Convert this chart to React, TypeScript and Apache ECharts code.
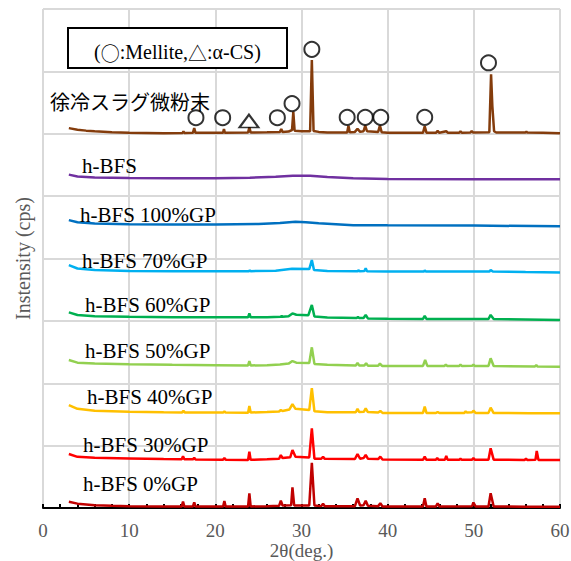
import React, { useEffect, useRef } from "react";
import * as echarts from "echarts";

// 2θ (deg.) vs intensity (cps, stacked with offsets as drawn)
const slagData: number[][] = [
  [3.0, 6090], [4, 6065], [5, 6050], [6, 6040], [8, 6025], [10, 6015], [14, 6010], [16.2, 6012], [16.3, 6040], [16.4, 6012],
  [17.4, 6015], [17.55, 6090], [17.7, 6015], [20.9, 6018], [21.0, 6075], [21.1, 6018], [23.8, 6020], [23.95, 6105], [24.1, 6020],
  [26, 6025], [27.5, 6030], [27.65, 6075], [27.8, 6030], [28.5, 6035], [28.9, 6060], [29.05, 6350], [29.2, 6050], [30, 6040],
  [31.0, 6040], [31.2, 7180], [31.4, 6045], [32, 6030], [33, 6022], [35.3, 6020], [35.45, 6130], [35.6, 6025], [36.2, 6030],
  [36.5, 6080], [36.8, 6030], [37.2, 6040], [37.4, 6130], [37.6, 6040], [38.9, 6030], [39.1, 6130], [39.3, 6025], [40, 6015],
  [44.1, 6015], [44.3, 6120], [44.5, 6018], [45.6, 6015], [45.8, 6045], [46, 6015], [46.8, 6040], [47, 6015], [48.3, 6015],
  [48.45, 6040], [48.6, 6015], [49.6, 6020], [49.75, 6045], [49.9, 6020], [51.8, 6025], [52.0, 6955], [52.15, 6440], [52.35, 6040],
  [52.6, 6020], [56.0, 6020], [56.1, 6035], [56.2, 6020], [58, 6015], [60, 6010],
];
const hbfsData: number[][] = [
  [3, 5345], [4, 5315], [6, 5300], [10, 5290], [15, 5285], [20, 5285], [24, 5295], [27, 5310], [29, 5325], [31, 5325],
  [33, 5305], [36, 5285], [40, 5275], [50, 5272], [60, 5270],
];
const gp100Data: number[][] = [
  [3, 4615], [4, 4580], [6, 4560], [10, 4548], [15, 4545], [20, 4545], [25, 4555], [27.5, 4570], [29.3, 4590], [30.5, 4580],
  [32, 4565], [34, 4550], [36, 4535], [40, 4532], [50, 4528], [60, 4516],
];
const gp70Data: number[][] = [
  [3, 3895], [4, 3840], [6, 3815], [10, 3800], [15, 3795], [20, 3795], [23.9, 3797], [24.0, 3812], [24.1, 3797], [27, 3805],
  [28.9, 3835], [30.9, 3830], [31.2, 3975], [31.45, 3815], [33, 3800], [36.5, 3795], [36.6, 3810], [36.75, 3795], [37.3, 3800],
  [37.45, 3845], [37.6, 3795], [40, 3790], [44.2, 3790], [44.3, 3810], [44.45, 3790], [51.8, 3790], [51.95, 3815], [52.2, 3790],
  [56, 3782], [60, 3775],
];
const gp60Data: number[][] = [
  [3, 3137], [4, 3095], [6, 3075], [10, 3065], [15, 3060], [20, 3058], [23.8, 3057], [23.95, 3122], [24.1, 3057], [26, 3060],
  [27.6, 3065], [27.7, 3080], [27.8, 3065], [28.5, 3075], [28.95, 3120], [29.4, 3098], [30.8, 3092], [31.2, 3255], [31.5, 3070],
  [33, 3055], [36.4, 3045], [36.55, 3065], [36.7, 3045], [37.2, 3045], [37.45, 3095], [37.7, 3040], [40, 3035], [44.1, 3032],
  [44.3, 3080], [44.5, 3032], [51.7, 3030], [51.95, 3095], [52.3, 3030], [56, 3022], [60, 3014],
];
const gp50Data: number[][] = [
  [3, 2372], [4, 2330], [6, 2315], [10, 2305], [15, 2295], [20, 2290], [23.8, 2285], [23.95, 2356], [24.1, 2285], [26, 2290],
  [27.5, 2300], [28.5, 2315], [28.95, 2356], [29.4, 2330], [30.9, 2325], [31.2, 2576], [31.5, 2310], [33, 2295], [36.3, 2285],
  [36.5, 2325], [36.7, 2285], [37.3, 2285], [37.5, 2322], [37.7, 2282], [38.9, 2280], [39.1, 2315], [39.35, 2278], [44.1, 2278],
  [44.35, 2372], [44.6, 2278], [46.6, 2278], [46.75, 2300], [46.9, 2278], [48.3, 2276], [48.45, 2300], [48.6, 2276], [49.8, 2280],
  [49.95, 2300], [50.1, 2278], [51.7, 2278], [51.95, 2400], [52.3, 2276], [57.1, 2270], [57.25, 2290], [57.4, 2268], [60, 2265],
];
const gp40Data: number[][] = [
  [3, 1650], [4, 1590], [6, 1560], [10, 1545], [14, 1535], [16.15, 1533], [16.3, 1560], [16.45, 1533], [20.9, 1530], [21.05, 1550],
  [21.2, 1530], [23.8, 1528], [23.95, 1635], [24.1, 1530], [26, 1540], [27.4, 1548], [27.6, 1572], [27.8, 1555], [28.6, 1580],
  [28.95, 1665], [29.3, 1590], [30.9, 1570], [31.2, 1920], [31.5, 1550], [33, 1535], [36.3, 1535], [36.5, 1588], [36.7, 1538],
  [37.25, 1545], [37.45, 1598], [37.7, 1538], [38.9, 1530], [39.15, 1555], [39.4, 1525], [44.1, 1525], [44.3, 1625], [44.5, 1525],
  [45.6, 1522], [45.8, 1540], [46, 1522], [48.9, 1525], [49.05, 1550], [49.2, 1530], [49.8, 1535], [49.95, 1560], [50.2, 1525],
  [51.7, 1525], [51.95, 1608], [52.3, 1522], [56.5, 1520], [60, 1518],
];
const gp30Data: number[][] = [
  [3, 866], [4, 820], [6, 805], [10, 795], [14, 785], [16.1, 782], [16.25, 830], [16.4, 782], [17.4, 780], [17.55, 805],
  [17.7, 778], [20.9, 775], [21.05, 800], [21.2, 775], [23.8, 770], [23.95, 902], [24.1, 772], [26, 780], [27.4, 790],
  [27.6, 850], [27.8, 800], [28.7, 815], [28.95, 930], [29.3, 820], [30.9, 810], [31.2, 1278], [31.5, 790], [32.3, 790],
  [32.5, 822], [32.7, 788], [36.2, 785], [36.5, 866], [36.8, 790], [37.2, 800], [37.45, 850], [37.7, 790], [38.9, 785],
  [39.15, 822], [39.4, 778], [44.1, 772], [44.3, 822], [44.5, 772], [45.6, 772], [45.75, 800], [45.9, 772], [46.65, 775],
  [46.8, 834], [46.95, 775], [48.3, 772], [48.45, 792], [48.6, 772], [49.8, 775], [49.95, 800], [50.1, 775], [51.7, 775],
  [51.95, 957], [52.3, 775], [55.9, 770], [56.05, 790], [56.2, 770], [57.15, 772], [57.3, 914], [57.5, 770], [60, 769],
];
const gp0Data: number[][] = [
  [3, 100], [4, 70], [6, 45], [8, 35], [10, 30], [14, 25], [16.1, 25], [16.25, 101], [16.4, 25], [17.4, 25], [17.55, 92],
  [17.7, 25], [20.9, 25], [21.05, 112], [21.2, 25], [23.8, 25], [23.95, 236], [24.1, 25], [26, 30], [27.4, 35], [27.6, 117],
  [27.8, 40], [28.8, 45], [28.95, 332], [29.15, 40], [30.9, 40], [31.2, 726], [31.5, 40], [32.3, 30], [32.5, 70], [32.7, 28],
  [36.2, 30], [36.5, 155], [36.8, 40], [37.2, 45], [37.45, 117], [37.7, 35], [38.9, 30], [39.15, 75], [39.4, 25], [44.1, 25],
  [44.3, 155], [44.5, 25], [45.6, 25], [45.8, 75], [46, 25], [49.8, 30], [49.95, 88], [50.2, 25], [51.7, 25], [51.95, 236],
  [52.3, 25], [56, 22], [60, 21],
];

const seriesNames = [
  "徐冷スラグ微粉末", "h-BFS", "h-BFS 100%GP", "h-BFS 70%GP", "h-BFS 60%GP",
  "h-BFS 50%GP", "h-BFS 40%GP", "h-BFS 30%GP", "h-BFS 0%GP",
];
const seriesData = [slagData, hbfsData, gp100Data, gp70Data, gp60Data, gp50Data, gp40Data, gp30Data, gp0Data];
const seriesColors = ["#843C0C", "#7030A0", "#0070C0", "#00B0F0", "#00B050", "#92D050", "#FFC000", "#FF0000", "#C00000"];

// Phase markers (○: Mellite, △: α-CS)
const melliteMarks: number[][] = [
  [17.75, 6257], [20.85, 6257], [27.2, 6257], [28.9, 6484], [31.2, 7353],
  [35.3, 6263], [37.4, 6263], [39.2, 6263], [44.3, 6263], [51.7, 7138],
];
const csMarks: number[][] = [[23.9, 6204]];

const xTicks = [0, 10, 20, 30, 40, 50, 60];
const xAxisTitle = "2θ(deg.)";
const yAxisTitle = "Instensity (cps)";
const legendRich = "(\u007bc|○\u007d:Mellite,\u007bc|△\u007d:α-CS)";

// label placements (left x, middle y) in px
const labelPos = [
  [50, 101], [82, 166], [80, 215], [82, 261], [85, 305], [85, 351], [87, 397], [83, 445], [83, 484],
];

export default function App() {
  const ref = useRef<HTMLDivElement>(null);
  useEffect(() => {
    if (!ref.current) return;
    const chart = echarts.init(ref.current, undefined, { renderer: "svg" });
    const serif = '"Liberation Serif", "Times New Roman", serif';
    const lines = seriesData.map((d, i) => ({
      name: seriesNames[i],
      type: "line",
      data: d,
      showSymbol: false,
      symbol: "none",
      lineStyle: { color: seriesColors[i], width: 2.5 },
      itemStyle: { color: seriesColors[i] },
      z: 2,
    }));
    const labels = seriesNames.map((t, i) => ({
      type: "text",
      x: labelPos[i][0],
      y: labelPos[i][1],
      z: 10,
      style: {
        text: t,
        font: i === 0 ? '20px "Noto Sans CJK JP", sans-serif' : `21px ${serif}`,
        fill: "#000",
        verticalAlign: "middle",
        align: "left",
      },
    }));
    chart.setOption({
      animation: false,
      grid: { left: 43, right: 11, top: 9, bottom: 53, containLabel: false, outerBoundsMode: "none" },
      xAxis: {
        type: "value",
        min: xTicks[0],
        max: xTicks[xTicks.length - 1],
        interval: 10,
        axisLine: { show: true, onZero: false, lineStyle: { color: "#000", width: 2 } },
        axisTick: { show: true, inside: true, length: 4, lineStyle: { color: "#000", width: 2 } },
        minorTick: { show: true, splitNumber: 5, length: 4, lineStyle: { color: "#000", width: 2 } },
        axisLabel: { color: "#595959", fontSize: 19, fontFamily: serif, margin: 13 },
        splitLine: { show: true, lineStyle: { color: "#D9D9D9", width: 2 } },
      },
      yAxis: {
        type: "value",
        min: 0,
        max: 8000,
        interval: 1000,
        name: yAxisTitle,
        nameLocation: "middle",
        nameGap: 10,
        nameTextStyle: { color: "#595959", fontSize: 20, fontFamily: serif },
        axisLine: { show: false },
        axisTick: { show: false },
        axisLabel: { show: false },
        splitLine: { show: true, lineStyle: { color: "#D9D9D9", width: 2 } },
      },
      series: [
        ...lines,
        {
          type: "scatter",
          data: melliteMarks,
          symbol: "circle",
          symbolSize: 15,
          itemStyle: { color: "transparent", borderColor: "#000", borderWidth: 2 },
          z: 5,
        },
        {
          type: "scatter",
          data: csMarks,
          symbol: "triangle",
          symbolSize: [19, 13],
          itemStyle: { color: "transparent", borderColor: "#000", borderWidth: 2 },
          z: 5,
        },
      ],
      graphic: [
        {
          type: "rect",
          shape: { x: 68, y: 28, width: 219, height: 40 },
          style: { fill: "#fff", stroke: "#000", lineWidth: 2 },
          z: 9,
        },
        {
          type: "text",
          x: 177.5,
          y: 52,
          z: 10,
          style: {
            text: legendRich,
            font: `20px ${serif}`,
            fill: "#000",
            align: "center",
            verticalAlign: "middle",
            rich: {
              c: { fontFamily: '"Noto Sans CJK JP"', fontSize: 19, fill: "#000" },
            },
          },
        },
        {
          type: "text",
          x: 301.5,
          y: 550.5,
          z: 10,
          style: {
            text: xAxisTitle,
            font: `19px ${serif}`,
            fill: "#595959",
            align: "center",
            verticalAlign: "middle",
          },
        },
        ...labels,
      ],
    });
    return () => chart.dispose();
  }, []);
  return <div ref={ref} style={{ width: 571, height: 561, position: "absolute", left: 0, top: 0 }} />;
}
